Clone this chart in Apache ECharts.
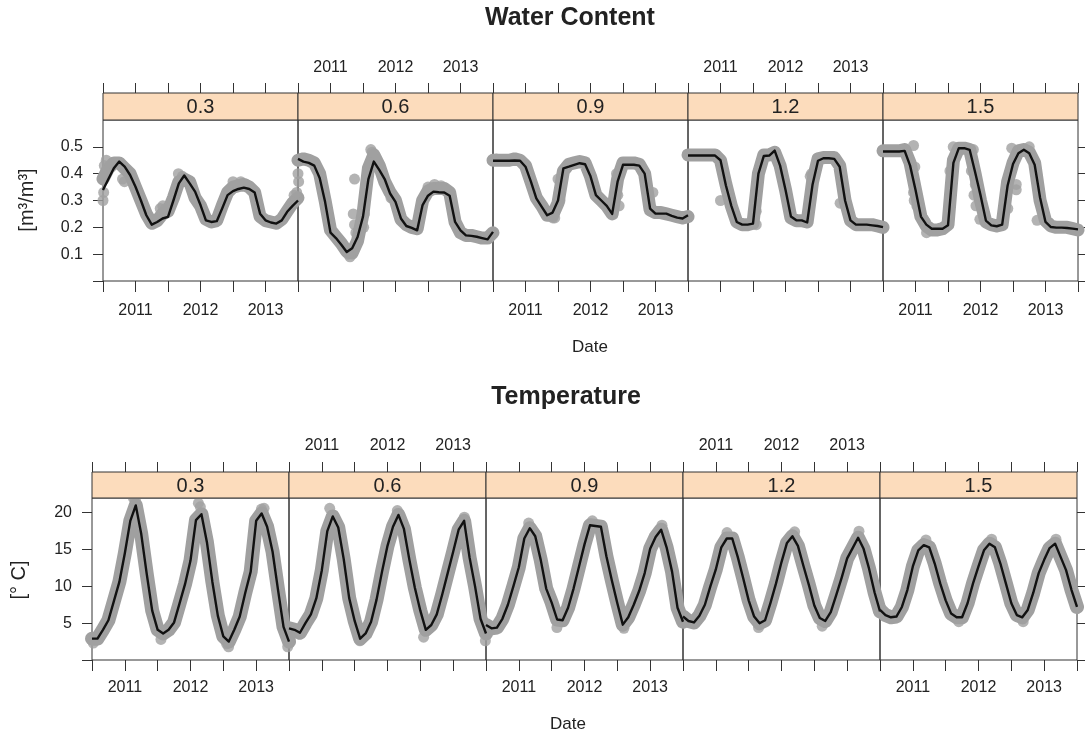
<!DOCTYPE html>
<html><head><meta charset="utf-8">
<script src="https://cdn.jsdelivr.net/npm/echarts@6/dist/echarts.min.js"></script>
<style>html,body{margin:0;padding:0;background:#fff}#c{width:1085px;height:736px}</style>
</head><body><div id="c"></div>
<script>
// ---------------- data ----------------
const months = ['2010-07','2010-08','2010-09','2010-10','2010-11','2010-12',
  '2011-01','2011-02','2011-03','2011-04','2011-05','2011-06','2011-07','2011-08','2011-09','2011-10','2011-11','2011-12',
  '2012-01','2012-02','2012-03','2012-04','2012-05','2012-06','2012-07','2012-08','2012-09','2012-10','2012-11','2012-12',
  '2013-01','2013-02','2013-03','2013-04','2013-05','2013-06','2013-07'];
const depthLabels = ['0.3','0.6','0.9','1.2','1.5'];
const yearLabels = [2011, 2012, 2013];
const wcTickValues = [0, 0.1, 0.2, 0.3, 0.4, 0.5];
const wcLabelValues = [0.1, 0.2, 0.3, 0.4, 0.5];
const tempTickValues = [0, 5, 10, 15, 20];
const tempLabelValues = [5, 10, 15, 20];

// Water content: fitted line (black) per depth
const wcModel03 = [0.339,0.38,0.42,0.445,0.426,0.395,0.351,0.30,0.245,0.21,0.22,0.233,0.239,0.30,0.364,0.393,0.364,0.333,0.283,0.226,0.22,0.223,0.27,0.32,0.335,0.343,0.348,0.343,0.33,0.251,0.226,0.218,0.214,0.226,0.258,0.28,0.30];
const wcModel06 = [0.455,0.445,0.44,0.43,0.384,0.295,0.18,0.16,0.135,0.108,0.122,0.164,0.24,0.38,0.445,0.414,0.38,0.326,0.295,0.233,0.205,0.198,0.189,0.283,0.318,0.333,0.331,0.33,0.318,0.22,0.189,0.17,0.168,0.165,0.16,0.155,0.183];
const wcModel09 = [0.448,0.448,0.448,0.448,0.449,0.448,0.426,0.37,0.308,0.276,0.245,0.255,0.30,0.42,0.426,0.433,0.439,0.435,0.39,0.32,0.30,0.28,0.25,0.37,0.433,0.433,0.433,0.43,0.40,0.27,0.251,0.251,0.251,0.243,0.236,0.233,0.245];
const wcModel12 = [0.4675,0.4675,0.4675,0.4675,0.4675,0.4675,0.45,0.356,0.28,0.22,0.21,0.21,0.214,0.40,0.466,0.4675,0.486,0.43,0.34,0.24,0.226,0.226,0.218,0.36,0.448,0.4575,0.4575,0.455,0.426,0.30,0.226,0.21,0.21,0.21,0.2075,0.205,0.201];
const wcModel15 = [0.4825,0.4825,0.4825,0.4825,0.485,0.43,0.34,0.24,0.21,0.195,0.195,0.195,0.2075,0.44,0.495,0.495,0.489,0.406,0.32,0.225,0.2075,0.204,0.21,0.355,0.436,0.476,0.489,0.476,0.433,0.31,0.22,0.201,0.199,0.199,0.1975,0.195,0.1925];
// Water content: observations (grey)
const wcObs03 = [0.38,0.42,0.44,0.44,0.42,0.40,0.35,0.30,0.25,0.215,0.225,0.25,0.26,0.31,0.37,0.38,0.37,0.31,0.28,0.23,0.22,0.225,0.28,0.33,0.35,0.355,0.36,0.35,0.33,0.24,0.225,0.22,0.215,0.23,0.26,0.29,0.31];
const wcObs06 = [0.45,0.455,0.45,0.44,0.40,0.30,0.19,0.165,0.14,0.11,0.105,0.15,0.25,0.42,0.47,0.43,0.37,0.33,0.30,0.23,0.21,0.20,0.195,0.30,0.335,0.345,0.345,0.345,0.33,0.22,0.18,0.17,0.17,0.165,0.16,0.16,0.18];
const wcObs09 = [0.45,0.45,0.45,0.45,0.455,0.45,0.43,0.37,0.31,0.28,0.245,0.245,0.29,0.41,0.435,0.44,0.445,0.44,0.39,0.32,0.30,0.28,0.25,0.38,0.44,0.44,0.44,0.435,0.40,0.265,0.255,0.255,0.25,0.245,0.24,0.235,0.24];
const wcObs12 = [0.47,0.47,0.47,0.47,0.47,0.47,0.45,0.36,0.28,0.22,0.21,0.21,0.215,0.40,0.47,0.47,0.48,0.43,0.34,0.235,0.225,0.225,0.22,0.37,0.455,0.46,0.46,0.46,0.43,0.30,0.225,0.21,0.21,0.21,0.21,0.205,0.20];
const wcObs15 = [0.485,0.485,0.485,0.485,0.49,0.44,0.34,0.24,0.205,0.19,0.19,0.195,0.21,0.45,0.495,0.495,0.49,0.40,0.30,0.22,0.21,0.205,0.21,0.37,0.44,0.485,0.49,0.48,0.44,0.30,0.225,0.205,0.20,0.20,0.20,0.195,0.19];
// Water content: scattered single observations [decimal year, value]
const wcExtra03 = [[2010.50,0.30],[2010.51,0.33],[2010.52,0.43],[2010.55,0.45],[2010.80,0.38],[2010.83,0.37],[2011.38,0.27],[2011.42,0.28],[2011.46,0.27],[2011.66,0.40],[2011.72,0.39],[2011.93,0.31],[2012.50,0.37],[2012.62,0.37],[2012.70,0.36],[2013.44,0.32],[2013.48,0.33]];
const wcExtra06 = [[2010.50,0.40],[2010.51,0.37],[2011.37,0.38],[2011.35,0.25],[2011.37,0.21],[2011.39,0.18],[2011.52,0.29],[2011.52,0.25],[2011.51,0.20],[2011.30,0.09],[2011.27,0.10],[2011.62,0.49],[2011.64,0.48],[2011.85,0.36],[2011.90,0.34],[2011.93,0.31],[2012.50,0.35],[2012.60,0.36],[2012.70,0.355]];
const wcExtra09 = [[2011.50,0.38],[2011.52,0.33],[2011.53,0.30],[2011.42,0.235],[2011.45,0.235],[2012.40,0.40],[2012.42,0.32],[2012.44,0.28],[2010.55,0.455],[2010.85,0.455],[2012.96,0.33]];
const wcExtra12 = [[2011.55,0.26],[2011.55,0.21],[2012.38,0.39],[2012.40,0.40],[2012.84,0.29],[2011.00,0.30]];
const wcExtra15 = [[2010.97,0.505],[2010.99,0.425],[2010.97,0.33],[2010.98,0.30],[2011.02,0.28],[2011.17,0.18],[2011.15,0.22],[2011.53,0.41],[2011.58,0.50],[2011.89,0.49],[2011.86,0.41],[2011.92,0.36],[2011.90,0.32],[2011.93,0.28],[2011.99,0.23],[2012.42,0.27],[2012.48,0.42],[2012.55,0.36],[2012.55,0.34],[2012.48,0.495],[2012.75,0.50],[2012.87,0.226]];

// Temperature: fitted line per depth (observations follow it closely)
const tModel03 = [2.9,2.9,4.1,5.4,8.0,10.6,14.5,18.9,21.0,17.1,11.7,6.7,4.1,3.6,4.1,5.1,7.7,10.3,13.5,19.0,19.8,16.0,10.6,6.0,3.2,2.5,4.1,5.9,9.1,12.0,18.9,19.9,18.1,14.7,9.5,4.5,2.5];
const tModel06 = [4.3,4.1,3.7,5.0,6.2,8.4,12.2,17.5,19.5,18.0,13.7,8.4,5.3,2.9,3.6,5.2,8.2,12.0,15.5,18.1,19.7,17.8,13.6,9.8,6.7,4.1,4.75,6.2,8.9,11.8,14.7,17.7,18.9,13.9,10.0,5.6,3.6];
const tModel09 = [4.75,4.3,4.4,5.6,7.5,10.0,12.6,16.5,17.9,16.8,13.6,9.7,7.8,5.5,5.4,7.1,9.7,12.7,15.7,18.3,18.2,18.1,14.1,10.8,7.7,4.8,5.8,7.5,9.4,11.8,15.1,16.7,17.7,15.3,12.0,7.1,5.2];
const tModel12 = [5.9,5.3,5.1,6.0,7.5,10.0,12.3,15.3,16.5,16.5,14.0,11.1,8.1,5.9,5.0,5.4,7.8,10.4,13.3,15.9,16.8,15.5,12.8,10.2,7.4,5.7,5.3,6.5,8.8,11.2,13.8,15.2,16.6,15.1,12.4,9.2,6.6];
const tModel15 = [6.8,6.1,5.8,5.9,7.2,9.5,12.7,14.9,15.6,15.3,13.1,10.4,8.1,6.3,5.8,5.8,7.7,10.4,12.7,14.9,15.8,15.3,13.1,10.4,7.7,6.1,5.8,6.8,9.1,11.8,13.6,15.2,15.8,14.0,12.2,9.5,7.2];
const tExtra03 = [[2011.13,22.0],[2011.16,21.8],[2012.12,21.3],[2012.15,20.8],[2013.08,20.5],[2013.12,20.6],[2011.55,2.8],[2012.55,2.2],[2012.58,1.8],[2010.52,2.3],[2013.48,1.8]];
const tExtra06 = [[2011.12,20.6],[2012.15,20.3],[2013.17,19.4],[2011.58,2.6],[2010.52,3.0],[2012.55,3.1],[2013.49,2.6]];
const tExtra09 = [[2011.15,18.6],[2012.12,18.9],[2013.18,18.3],[2011.58,4.4],[2012.6,4.3]];
const tExtra12 = [[2011.17,17.3],[2012.2,17.4],[2013.18,17.5],[2011.65,4.4],[2012.62,4.6]];
const tExtra15 = [[2011.2,16.3],[2012.2,16.4],[2013.18,16.4],[2011.7,5.2],[2012.68,5.2]];

// ---------------- build ----------------
const decYear = s => { const p = s.split('-'); return +p[0] + (+p[1] - 1) / 12; };
const tx = months.map(decYear);
const pairs = arr => arr.map((v, i) => [tx[i], v]);

const FONT = '"Liberation Sans", Arial, Helvetica, sans-serif';
const GREY = '#a0a0a0';
const INK = '#222';

const plots = [
  { lefts:[103,298,493,688,883], width:195, top:120, height:161, stripH:27,
    min:0, max:0.6, ticks:wcTickValues, labels:wcLabelValues,
    model:[wcModel03,wcModel06,wcModel09,wcModel12,wcModel15],
    obs:[wcObs03,wcObs06,wcObs09,wcObs12,wcObs15],
    extra:[wcExtra03,wcExtra06,wcExtra09,wcExtra12,wcExtra15],
    botMargin:22, topMargin:17, band:13 },
  { lefts:[92,289,486,683,880], width:197, top:498, height:162, stripH:26,
    min:0, max:22, ticks:tempTickValues, labels:tempLabelValues,
    model:[tModel03,tModel06,tModel09,tModel12,tModel15],
    obs:[tModel03,tModel06,tModel09,tModel12,tModel15],
    extra:[tExtra03,tExtra06,tExtra09,tExtra12,tExtra15],
    botMargin:20, topMargin:18, band:14 }
];

const grid = [], xAxis = [], yAxis = [], series = [], graphic = [];
const yearFmt = v => { const r = Math.round(v); return (Math.abs(v - r) < 1e-6 && yearLabels.includes(r)) ? String(r) : ''; };

plots.forEach((P, pi) => {
  P.lefts.forEach((left, k) => {
    const gi = grid.length;
    grid.push({ left: left, top: P.top, width: P.width, height: P.height,
      show: true, borderColor: '#333', borderWidth: 1, backgroundColor: 'transparent', containLabel: false });
    const xb = xAxis.length;
    xAxis.push({ gridIndex: gi, type: 'value', min: 2010.5, max: 2013.5, interval: 0.5, position: 'bottom',
      axisLine: { show: false }, splitLine: { show: false },
      axisTick: { show: true, inside: false, length: 11, lineStyle: { color: '#333', width: 1 } },
      axisLabel: { show: k % 2 === 0, margin: P.botMargin, fontSize: 16, color: INK, fontFamily: FONT, formatter: yearFmt } });
    xAxis.push({ gridIndex: gi, type: 'value', min: 2010.5, max: 2013.5, interval: 0.5, position: 'top', offset: P.stripH,
      axisLine: { show: false }, splitLine: { show: false },
      axisTick: { show: true, inside: false, length: 10, lineStyle: { color: '#333', width: 1 } },
      axisLabel: { show: k % 2 === 1, margin: P.topMargin, fontSize: 16, color: INK, fontFamily: FONT, formatter: yearFmt } });
    const yi = yAxis.length;
    const yBase = { gridIndex: gi, type: 'value', min: P.min, max: P.max, splitLine: { show: false }, axisLine: { show: false } };
    if (k === 0) {
      yAxis.push(Object.assign(yBase, { position: 'left',
        axisTick: { show: true, length: 10, customValues: P.ticks, lineStyle: { color: '#333' } },
        axisLabel: { show: true, customValues: P.labels, margin: 20, fontSize: 16, color: INK, fontFamily: FONT,
          formatter: v => P.labels.some(l => Math.abs(l - v) < 1e-9) ? String(v) : '' } }));
    } else if (k === 4) {
      yAxis.push(Object.assign(yBase, { position: 'right',
        axisTick: { show: true, length: 10, customValues: P.ticks, lineStyle: { color: '#333' } },
        axisLabel: { show: false } }));
    } else {
      yAxis.push(Object.assign(yBase, { show: false }));
    }
    series.push({ type: 'line', xAxisIndex: xb, yAxisIndex: yi, data: pairs(P.obs[k]), showSymbol: false, silent: true,
      lineStyle: { color: GREY, width: P.band, cap: 'round', join: 'round' }, z: 1 });
    series.push({ type: 'scatter', xAxisIndex: xb, yAxisIndex: yi, data: P.extra[k], symbolSize: 11, silent: true,
      itemStyle: { color: GREY }, z: 1 });
    series.push({ type: 'line', xAxisIndex: xb, yAxisIndex: yi, data: pairs(P.model[k]), showSymbol: false, silent: true,
      lineStyle: { color: '#111', width: 2.4, join: 'round' }, z: 3 });
    graphic.push({ type: 'rect', silent: true, z: 10,
      shape: { x: left, y: P.top - P.stripH, width: P.width, height: P.stripH },
      style: { fill: '#fcdcbc', stroke: '#333', lineWidth: 1 } });
    graphic.push({ type: 'text', silent: true, z: 11, x: left + P.width / 2, y: P.top - P.stripH / 2 + 1,
      style: { text: depthLabels[k], font: '20px ' + FONT, fill: INK, align: 'center', verticalAlign: 'middle',
        textAlign: 'center', textVerticalAlign: 'middle' } });
  });
});

function txt(s, x, y, font, rot) {
  return { type: 'text', silent: true, z: 12, x: x, y: y, rotation: rot || 0,
    style: { text: s, font: font, fill: INK, align: 'center', verticalAlign: 'middle', textAlign: 'center', textVerticalAlign: 'middle' } };
}
graphic.push(txt('Water Content', 570, 18, 'bold 25px ' + FONT));
graphic.push(txt('Temperature', 566, 397, 'bold 25px ' + FONT));
graphic.push(txt('Date', 590, 347, '17px ' + FONT));
graphic.push(txt('Date', 568, 724, '17px ' + FONT));
graphic.push(txt('[m³/m³]', 27, 200, '20px ' + FONT, Math.PI / 2));
graphic.push(txt('[° C]', 19, 580, '20px ' + FONT, Math.PI / 2));

const chart = echarts.init(document.getElementById('c'), null, { renderer: 'canvas' });
chart.setOption({ animation: false, backgroundColor: '#fff', grid, xAxis, yAxis, series, graphic });
</script></body></html>
